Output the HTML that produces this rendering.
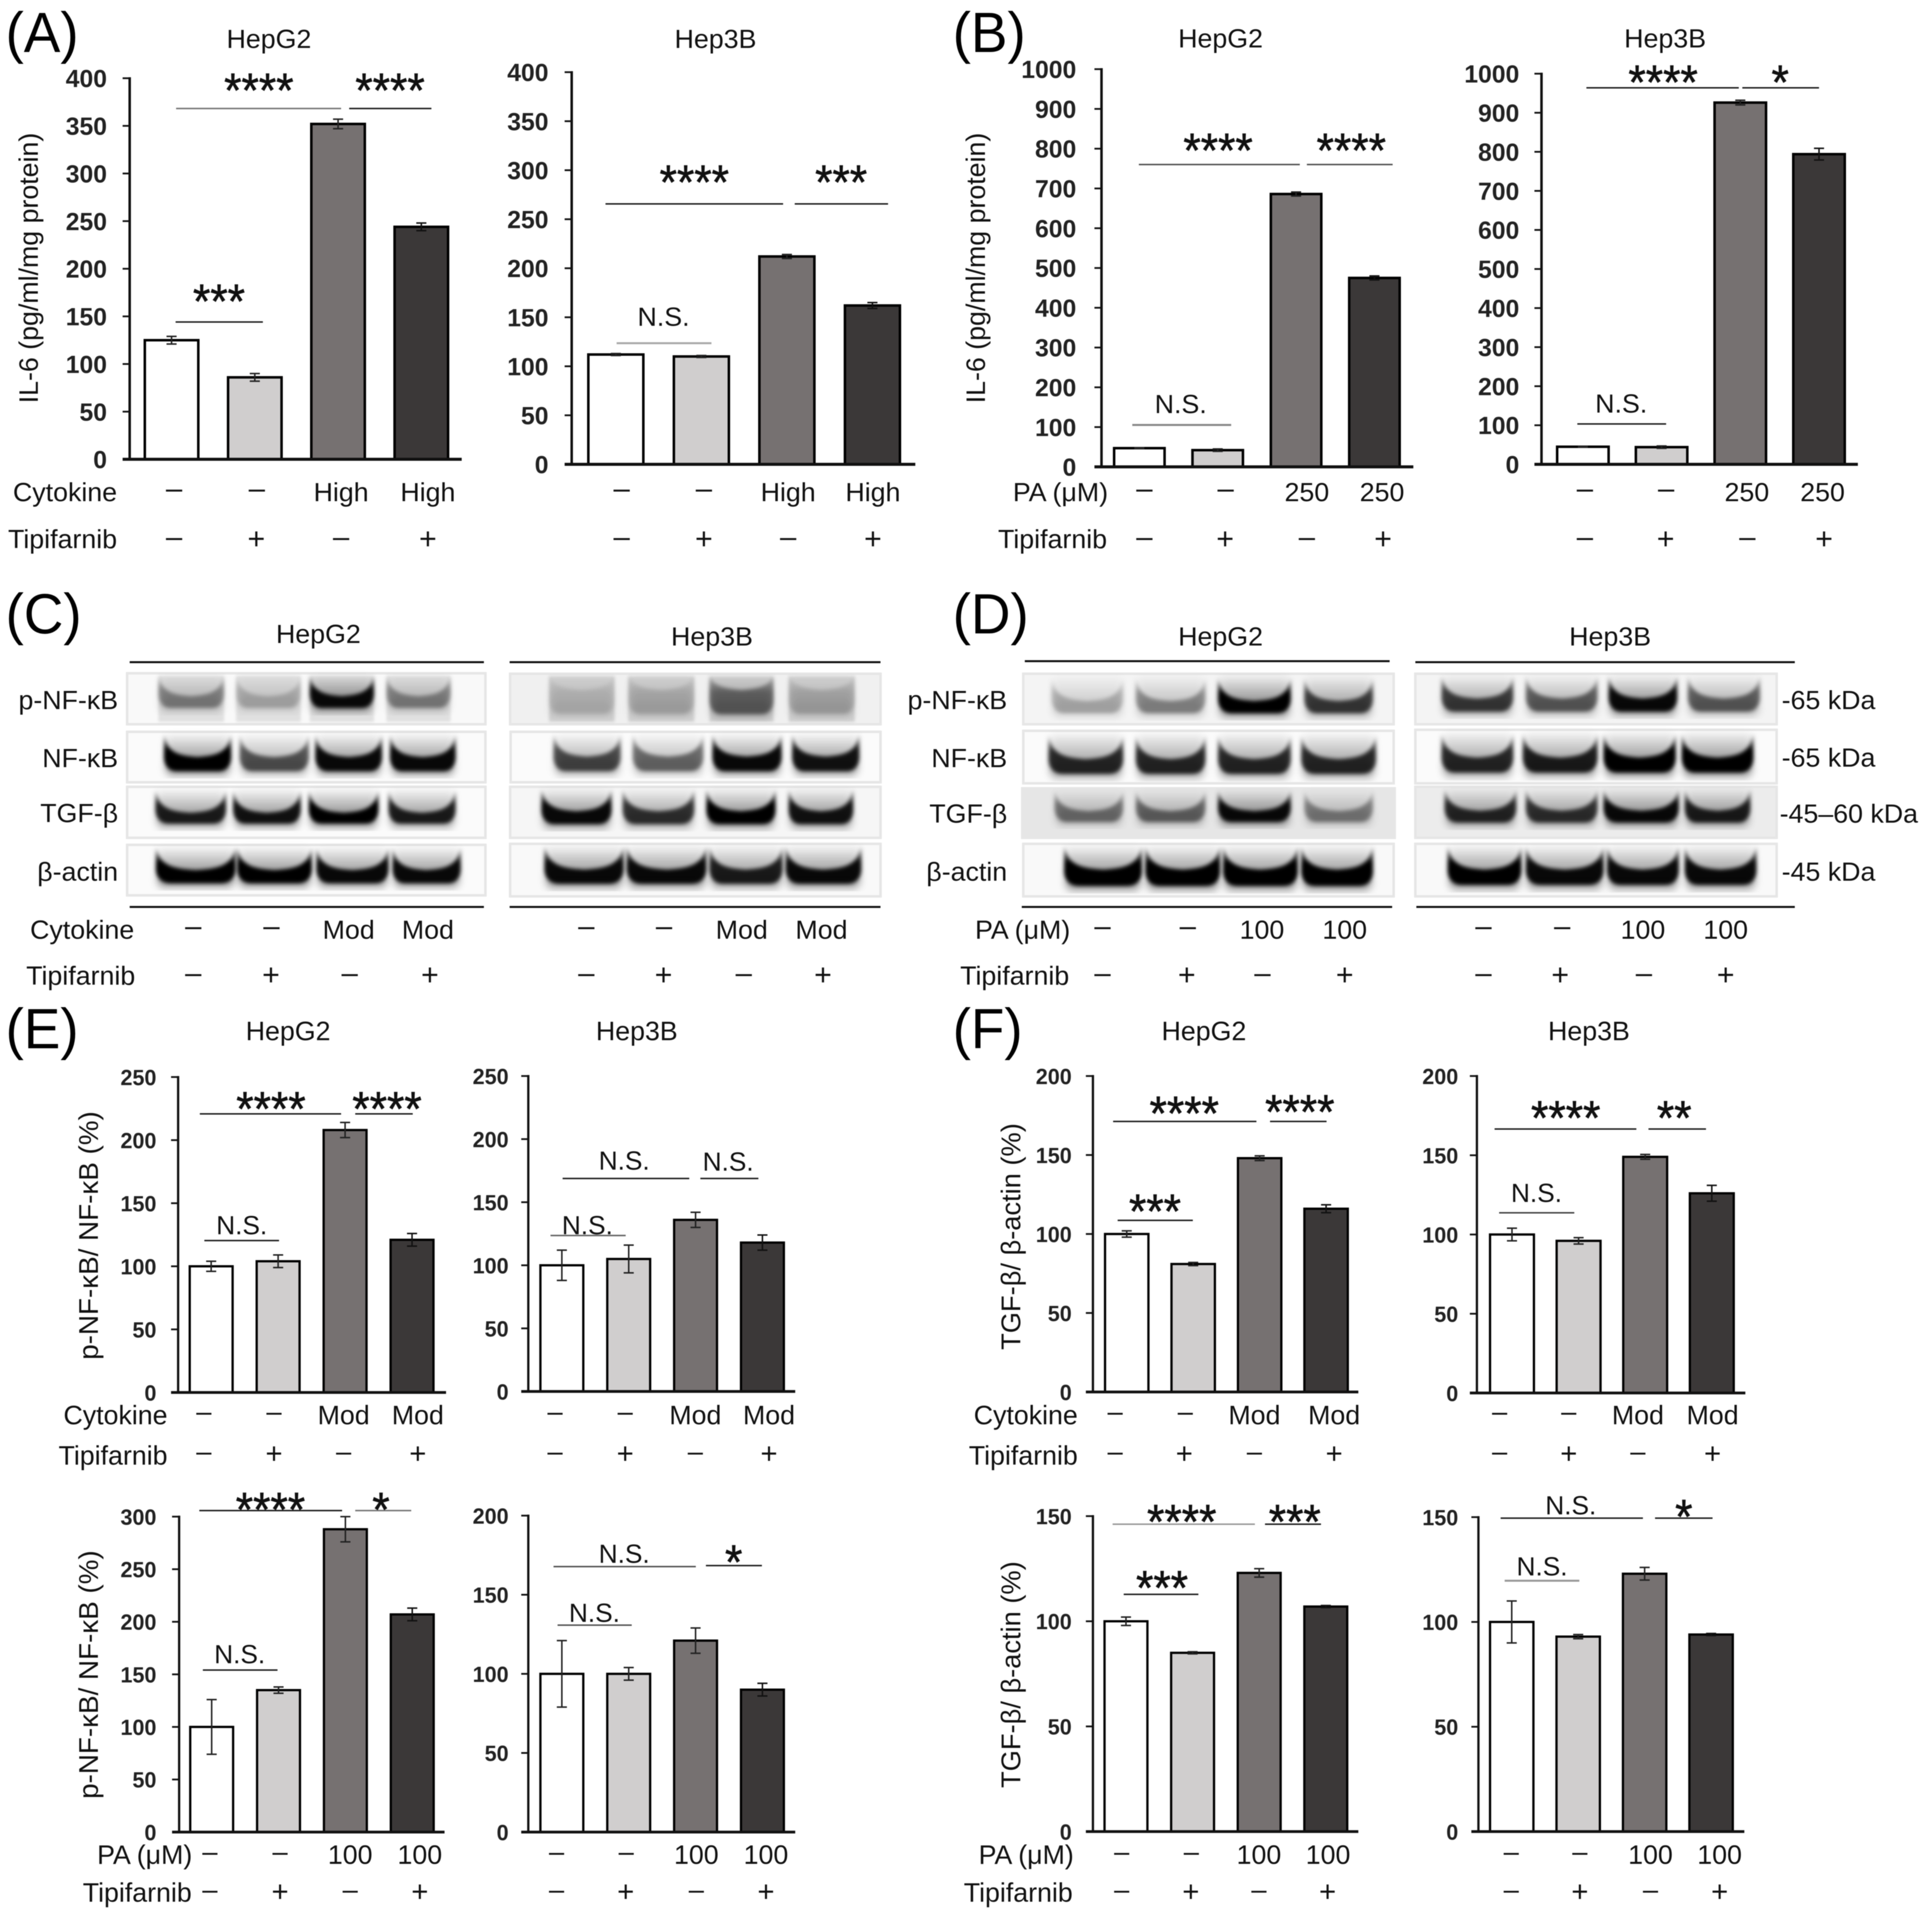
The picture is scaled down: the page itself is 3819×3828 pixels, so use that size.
<!DOCTYPE html>
<html lang="en">
<head>
<meta charset="utf-8">
<title>IL-6, NF-kB and TGF-beta figure</title>
<style>
html,body{margin:0;padding:0;background:#fff;width:3819px;height:3828px;overflow:hidden}
svg{display:block;filter:blur(0.9px)}
text{font-family:"Liberation Sans","DejaVu Sans",sans-serif}
</style>
</head>
<body>
<svg id="figure" xmlns="http://www.w3.org/2000/svg" width="3819" height="3828" viewBox="0 0 3819 3828">
<defs>
<filter id="blurCore" x="-30%" y="-60%" width="160%" height="220%"><feGaussianBlur stdDeviation="4"/></filter>
<filter id="blurTone" x="-10%" y="-10%" width="120%" height="120%"><feGaussianBlur stdDeviation="3"/></filter>
<filter id="blurSmear" x="-20%" y="-30%" width="140%" height="160%"><feGaussianBlur stdDeviation="8"/></filter>
<linearGradient id="smearGrad" x1="0" y1="0" x2="0" y2="1"><stop offset="0" stop-color="#000" stop-opacity="0.1"/><stop offset="1" stop-color="#000" stop-opacity="1"/></linearGradient>
<linearGradient id="bowlGrad" x1="0" y1="0" x2="0" y2="1"><stop offset="0" stop-color="#000" stop-opacity="0.35"/><stop offset="0.42" stop-color="#000" stop-opacity="1"/><stop offset="1" stop-color="#000" stop-opacity="1"/></linearGradient>
</defs>
<rect width="3819" height="3828" fill="#fff"/>
</svg>
<script>
/* ---------- chart data ---------- */
const barFills = ['#ffffff', '#d0cece', '#767171', '#3b3838'];
const tipifarnibRow = ['–', '+', '–', '+'];
const cytokineHighRow = ['–', '–', 'High', 'High'];
const cytokineModRow = ['–', '–', 'Mod', 'Mod'];
const pa250Row = ['–', '–', '250', '250'];
const pa100Row = ['–', '–', '100', '100'];

const a1Values = [125, 86, 352, 244];
const a1Errors = [4, 4, 5, 4];
const a1Ticks = [0, 50, 100, 150, 200, 250, 300, 350, 400];
const a2Values = [112, 110, 212, 162];
const a2Errors = [1, 1, 2, 3];
const a2Ticks = [0, 50, 100, 150, 200, 250, 300, 350, 400];
const b1Values = [47, 42, 686, 475];
const b1Errors = [1, 3, 5, 5];
const b1Ticks = [0, 100, 200, 300, 400, 500, 600, 700, 800, 900, 1000];
const b2Values = [45, 44, 926, 794];
const b2Errors = [1, 3, 6, 15];
const b2Ticks = [0, 100, 200, 300, 400, 500, 600, 700, 800, 900, 1000];
const e1Values = [100, 104, 208, 121];
const e1Errors = [4, 5, 6, 5];
const e1Ticks = [0, 50, 100, 150, 200, 250];
const e2Values = [100, 105, 136, 118];
const e2Errors = [12, 11, 6, 6];
const e2Ticks = [0, 50, 100, 150, 200, 250];
const e3Values = [100, 135, 288, 207];
const e3Errors = [26, 3, 12, 6];
const e3Ticks = [0, 50, 100, 150, 200, 250, 300];
const e4Values = [100, 100, 121, 90];
const e4Errors = [21, 4, 8, 4];
const e4Ticks = [0, 50, 100, 150, 200];
const f1Values = [100, 81, 148, 116];
const f1Errors = [2, 1, 1.5, 2.5];
const f1Ticks = [0, 50, 100, 150, 200];
const f2Values = [100, 96, 149, 126];
const f2Errors = [4, 2, 1.5, 5];
const f2Ticks = [0, 50, 100, 150, 200];
const f3Values = [100, 85, 123, 107];
const f3Errors = [2, 0.5, 2, 0.5];
const f3Ticks = [0, 50, 100, 150];
const f4Values = [100, 93, 123, 94];
const f4Errors = [10, 1, 3, 0.5];
const f4Ticks = [0, 50, 100, 150];

/* western blot band densities, one value per lane */
const c1PNfkb = [0.36, 0.18, 0.95, 0.36];
const c1Nfkb = [1, 0.6, 0.95, 0.95];
const c1Tgfb = [0.85, 0.9, 1, 0.85];
const c1Actin = [1, 1, 0.95, 0.95];
const c2PNfkb = [0.1, 0.14, 0.48, 0.16];
const c2Nfkb = [0.65, 0.5, 0.95, 0.9];
const c2Tgfb = [0.95, 0.75, 1, 0.9];
const c2Actin = [0.95, 0.95, 0.85, 0.95];
const d1PNfkb = [0.22, 0.36, 1, 0.7];
const d1Nfkb = [0.8, 0.8, 0.8, 0.8];
const d1Tgfb = [0.45, 0.5, 0.95, 0.4];
const d1Actin = [1, 1, 1, 1];
const d2PNfkb = [0.7, 0.55, 0.95, 0.55];
const d2Nfkb = [0.8, 0.85, 1, 1];
const d2Tgfb = [0.8, 0.75, 0.95, 0.85];
const d2Actin = [1, 0.95, 0.95, 0.95];

/* ---------- helpers ---------- */
const NS = 'http://www.w3.org/2000/svg';
const figure = document.getElementById('figure');
const TOP = {size: 52, sx: 1.02, tick: 49, tickSx: 1, titleSize: 52, titleSx: 1.02, dash: 58, plus: 60, nsSize: 52, nsSx: 1.02, bar: 5, axis: 5};
const BOT = {size: 53, sx: 1, tick: 44, tickSx: 0.97, titleSize: 53, titleSx: 1, dash: 54, plus: 58, nsSize: 52, nsSx: 1, bar: 4.5, axis: 4.5};

function make(tag, attrs, parent, name) {
  const el = document.createElementNS(NS, tag);
  for (const k in attrs) el.setAttribute(k, attrs[k]);
  
  
  parent.appendChild(el);
  return el;
}
function group(parent, name) {
  return make('g', {}, parent, name);
}
function txt(parent, str, x, y, o, name) {
  const tr = 'translate(' + x + ' ' + y + ')' + (o.rot ? ' rotate(' + o.rot + ')' : '') + ' scale(' + (o.sx || 1) + ' 1)';
  const attrs = {
    transform: tr,
    'font-size': o.size,
    'font-weight': o.weight || 'normal',
    'text-anchor': o.anchor || 'start',
    fill: o.fill || '#111'
  };
  if (o.stroke) {
    attrs.stroke = o.fill || '#111';
    attrs['stroke-width'] = o.stroke;
  }
  const el = make('text', attrs, parent, name);
  el.textContent = str;
  return el;
}
function line(parent, x1, y1, x2, y2, stroke, w, name) {
  return make('line', {x1: x1, y1: y1, x2: x2, y2: y2, stroke: stroke, 'stroke-width': w}, parent, name);
}

/* row of treatment labels under a chart */
function treatmentRow(parent, st, labels, xs, baseY, dashY, rowName) {
  labels.forEach(function (lab, i) {
    if (lab === '–') {
      txt(parent, lab, xs[i], dashY + 0.28 * st.dash, {size: st.dash, anchor: 'middle'}, rowName + '-minus');
    } else if (lab === '+') {
      txt(parent, lab, xs[i], dashY + 0.35 * st.plus, {size: st.plus, anchor: 'middle'}, rowName + '-plus');
    } else {
      txt(parent, lab, xs[i], baseY, {size: st.size, sx: st.sx, anchor: 'middle'}, rowName + '-value');
    }
  });
}
function sigBracket(parent, st, s) {
  line(parent, s.x1, s.y, s.x2, s.y, s.color || '#222', s.w || 3, 'significance-line');
  if (s.label === 'N.S.') {
    txt(parent, s.label, s.cx, s.cy + 0.36 * st.nsSize, {size: st.nsSize, sx: st.nsSx, anchor: 'middle'}, 'not-significant-label');
  } else {
    txt(parent, s.label, s.cx, s.cy + 50, {size: 96, sx: 0.92, stroke: 1.2, anchor: 'middle'}, 'significance-stars');
  }
}

/* ---------- bar chart, drawn through axis functions ---------- */
function drawBarChart(cfg, values, errors, ticks, row1, row2) {
  const st = cfg.style;
  const g = group(figure, cfg.id);
  const vMax = Math.max.apply(null, ticks);
  const yAxis = function (v) { return cfg.yBot - (v / vMax) * (cfg.yBot - cfg.yTop); };
  const xBand = function (i) { return cfg.barX0 + i * cfg.step; };

  if (cfg.title) {
    txt(g, cfg.title, cfg.titleX, cfg.titleY, {size: st.titleSize, sx: st.titleSx, anchor: 'middle'}, 'chart-title');
  }

  ticks.forEach(function (t) {
    line(g, cfg.axisX - 14, yAxis(t), cfg.axisX, yAxis(t), '#111', 3.5, 'y-tick');
    txt(g, String(t), cfg.tickRight, yAxis(t) + st.tick * 0.36, {size: st.tick, sx: st.tickSx, weight: 'bold', anchor: 'end', fill: '#222'}, 'y-tick-label');
  });

  values.forEach(function (v, i) {
    const y = yAxis(v);
    make('rect', {x: xBand(i), y: y, width: cfg.barW, height: cfg.yBot - y, fill: barFills[i], stroke: '#000', 'stroke-width': st.bar}, g, 'bar');
    const cx = xBand(i) + cfg.barW / 2;
    const hi = yAxis(v + errors[i]);
    const lo = yAxis(v - errors[i]);
    const errColor = i === 3 ? '#111' : '#222';
    line(g, cx, hi, cx, lo, errColor, 3, 'error-bar');
    line(g, cx - 10, hi, cx + 10, hi, errColor, 3, 'error-cap');
    line(g, cx - 10, lo, cx + 10, lo, errColor, 3, 'error-cap');
  });

  line(g, cfg.axisX, cfg.yTop - 2, cfg.axisX, cfg.yBot, '#111', st.axis, 'y-axis');
  line(g, cfg.axisX - 14, cfg.yBot, cfg.xEnd, cfg.yBot, '#111', st.axis + 1, 'x-axis');

  if (cfg.yTitle) {
    txt(g, cfg.yTitle, cfg.yTitleX, cfg.yTitleY, {size: cfg.yTitleSize, sx: cfg.yTitleSx || 1, rot: -90, anchor: 'middle'}, 'y-axis-title');
  }
  if (cfg.r1Label) {
    txt(g, cfg.r1Label, cfg.r1LabelX, cfg.rows[0], {size: st.size, sx: st.sx, anchor: 'end'}, 'row-label-treatment');
    txt(g, 'Tipifarnib', cfg.r2LabelX, cfg.rows[2], {size: st.size, sx: st.sx, anchor: 'end'}, 'row-label-tipifarnib');
  }
  treatmentRow(g, st, row1, cfg.r1x, cfg.rows[0], cfg.rows[1], 'treatment-row');
  treatmentRow(g, st, row2, cfg.r2x, cfg.rows[2], cfg.rows[3], 'tipifarnib-row');
  cfg.sig.forEach(function (s) { sigBracket(g, st, s); });
}

/* ---------- western blots ---------- */
function drawBlotStrip(parent, name, x, y, w, h, bg, lanes, density, c1, c2, tone) {
  const g = group(parent, name);
  make('rect', {x: x, y: y, width: w, height: h, fill: bg, stroke: '#e6e6e6', 'stroke-width': 5}, g, 'blot-frame');
  density.forEach(function (d, i) {
    const xa = lanes[i][0], xb = lanes[i][1], lw = xb - xa;
    const top = y + h * c1, bot = y + h * c2;
    const tip = Math.max(y + h * 0.05, top - h * 0.42);
    if (tone) {
      make('rect', {x: xa, y: y + 5, width: lw, height: h - 10, fill: '#000', 'fill-opacity': tone, filter: 'url(#blurTone)'}, g, 'blot-lane-background');
    }
    make('rect', {x: xa + 4, y: y + 8, width: lw - 8, height: bot - y - 8, fill: 'url(#smearGrad)', 'fill-opacity': 0.12 + 0.42 * d, filter: 'url(#blurSmear)'}, g, 'blot-lane-smear');
    make('rect', {x: xa + 8, y: bot - 4, width: lw - 16, height: h * 0.14, fill: '#000', 'fill-opacity': 0.26 * d, filter: 'url(#blurSmear)'}, g, 'blot-lane-glow');
    const path = 'M' + xa + ' ' + tip +
      ' C' + (xa + lw * 0.06) + ' ' + (top - h * 0.1) + ' ' + (xa + lw * 0.16) + ' ' + (top - h * 0.01) + ' ' + (xa + lw * 0.5) + ' ' + (top + h * 0.02) +
      ' C' + (xb - lw * 0.16) + ' ' + (top - h * 0.01) + ' ' + (xb - lw * 0.06) + ' ' + (top - h * 0.1) + ' ' + xb + ' ' + tip +
      ' L' + xb + ' ' + (bot - h * 0.26) +
      ' Q' + (xb - lw * 0.02) + ' ' + bot + ' ' + (xb - lw * 0.2) + ' ' + bot +
      ' L' + (xa + lw * 0.2) + ' ' + bot +
      ' Q' + (xa + lw * 0.02) + ' ' + bot + ' ' + xa + ' ' + (bot - h * 0.26) + ' Z';
    make('path', {d: path, fill: 'url(#bowlGrad)', 'fill-opacity': d, filter: 'url(#blurCore)'}, g, 'blot-band');
  });
}
function blotLabel(parent, right, base, str) {
  txt(parent, str, right, base, {size: TOP.size, sx: TOP.sx, anchor: 'end'}, 'blot-protein-label');
}
function kda(parent, x, base, str) {
  txt(parent, str, x, base, {size: TOP.size, sx: TOP.sx}, 'molecular-weight-label');
}

/* ---------- panel letters ---------- */
[['(A)', 11, 103], ['(B)', 1888, 103], ['(C)', 11, 1255], ['(D)', 1888, 1255], ['(E)', 11, 2077], ['(F)', 1888, 2077]].forEach(function (p) {
  txt(figure, p[0], p[1], p[2], {size: 112, sx: 0.97, fill: '#000'}, 'panel-letter');
});

const IL6 = 'IL-6 (pg/ml/mg protein)';
const PNF = 'p-NF-κB/ NF-κB (%)';
const TGF = 'TGF-β/ β-actin (%)';
const rowsAB = [993, 971, 1086, 1067];
const rowsE1 = [2822, 2800, 2902, 2879];
const rowsE2 = [3693, 3672, 3768, 3747];

/* ---------- panel A ---------- */
drawBarChart({id: 'chart-a-hepg2', style: TOP, title: 'HepG2', titleX: 533, titleY: 95, axisX: 257, yTop: 155, yBot: 910, xEnd: 915, barX0: 287, step: 165, barW: 106, tickRight: 212,
  yTitle: IL6, yTitleX: 75, yTitleY: 531, yTitleSize: 53,
  r1Label: 'Cytokine', r1LabelX: 232, r2LabelX: 232, rows: rowsAB, r1x: [345, 509, 676, 848], r2x: [345, 508, 676, 848],
  sig: [{x1: 349, x2: 676, y: 215, color: '#777', label: '****', cx: 513, cy: 162}, {x1: 692, x2: 855, y: 215, label: '****', cx: 773, cy: 162}, {x1: 348, x2: 521, y: 638, label: '***', cx: 434, cy: 580}]
}, a1Values, a1Errors, a1Ticks, cytokineHighRow, tipifarnibRow);

drawBarChart({id: 'chart-a-hep3b', style: TOP, title: 'Hep3B', titleX: 1418, titleY: 95, axisX: 1133, yTop: 143, yBot: 920, xEnd: 1814, barX0: 1166, step: 169.5, barW: 109, tickRight: 1087,
  rows: rowsAB, r1x: [1232, 1395, 1562, 1730], r2x: [1232, 1395, 1562, 1730],
  sig: [{x1: 1200, x2: 1552, y: 404, label: '****', cx: 1376, cy: 344}, {x1: 1575, x2: 1760, y: 404, label: '***', cx: 1667, cy: 344}, {x1: 1222, x2: 1410, y: 680, color: '#aaa', w: 4, label: 'N.S.', cx: 1315, cy: 627}]
}, a2Values, a2Errors, a2Ticks, cytokineHighRow, tipifarnibRow);

/* ---------- panel B ---------- */
drawBarChart({id: 'chart-b-hepg2', style: TOP, title: 'HepG2', titleX: 2419, titleY: 94, axisX: 2183, yTop: 137, yBot: 925, xEnd: 2801, barX0: 2208, step: 155.3, barW: 100, tickRight: 2133,
  yTitle: IL6, yTitleX: 1952, yTitleY: 531, yTitleSize: 53,
  r1Label: 'PA (μM)', r1LabelX: 2196, r2LabelX: 2194, rows: rowsAB, r1x: [2268, 2429, 2590, 2739], r2x: [2268, 2428, 2590, 2741],
  sig: [{x1: 2257, x2: 2576, y: 326, color: '#555', label: '****', cx: 2414, cy: 281}, {x1: 2590, x2: 2760, y: 326, color: '#555', label: '****', cx: 2678, cy: 281}, {x1: 2244, x2: 2440, y: 842, color: '#888', w: 4, label: 'N.S.', cx: 2340, cy: 800}]
}, b1Values, b1Errors, b1Ticks, pa250Row, tipifarnibRow);

drawBarChart({id: 'chart-b-hep3b', style: TOP, title: 'Hep3B', titleX: 3300, titleY: 94, axisX: 3055, yTop: 146, yBot: 920, xEnd: 3682, barX0: 3086, step: 156, barW: 102, tickRight: 3011,
  rows: rowsAB, r1x: [3141, 3302, 3462, 3612], r2x: [3141, 3301, 3463, 3615],
  sig: [{x1: 3144, x2: 3446, y: 174, label: '****', cx: 3296, cy: 146}, {x1: 3453, x2: 3605, y: 174, label: '*', cx: 3528, cy: 146}, {x1: 3126, x2: 3302, y: 840, label: 'N.S.', cx: 3213, cy: 799}]
}, b2Values, b2Errors, b2Ticks, pa250Row, tipifarnibRow);

/* ---------- panels C and D ---------- */
(function () {
  const gC = group(figure, 'western-blot-panel-c');
  txt(gC, 'HepG2', 631, 1274, {size: TOP.titleSize, sx: TOP.titleSx, anchor: 'middle'}, 'blot-title');
  txt(gC, 'Hep3B', 1411, 1279, {size: TOP.titleSize, sx: TOP.titleSx, anchor: 'middle'}, 'blot-title');
  line(gC, 257, 1312, 959, 1312, '#111', 4, 'blot-top-rule');
  line(gC, 1010, 1312, 1745, 1312, '#111', 4, 'blot-top-rule');
  line(gC, 257, 1797, 959, 1797, '#111', 4, 'blot-bottom-rule');
  line(gC, 1010, 1797, 1745, 1797, '#111', 4, 'blot-bottom-rule');

  drawBlotStrip(gC, 'blot-c-hepg2-p-nfkb', 252, 1334, 710, 101, '#f9f9f9', [[314, 444], [468, 596], [614, 741], [766, 893]], c1PNfkb, 0.43, 0.68, 0.1);
  drawBlotStrip(gC, 'blot-c-hepg2-nfkb', 252, 1450, 710, 100, '#fbfbfb', [[325, 458], [475, 612], [625, 757], [773, 903]], c1Nfkb, 0.48, 0.78);
  drawBlotStrip(gC, 'blot-c-hepg2-tgfb', 252, 1559, 710, 101, '#fbfbfb', [[308, 448], [462, 596], [612, 750], [770, 903]], c1Tgfb, 0.49, 0.72);
  drawBlotStrip(gC, 'blot-c-hepg2-actin', 252, 1674, 710, 100, '#fbfbfb', [[309, 467], [470, 618], [627, 770], [778, 913]], c1Actin, 0.48, 0.76);
  drawBlotStrip(gC, 'blot-c-hep3b-p-nfkb', 1011, 1335, 734, 100, '#f0f0f0', [[1088, 1218], [1245, 1376], [1406, 1533], [1563, 1694]], c2PNfkb, 0.3, 0.8, 0.13);
  drawBlotStrip(gC, 'blot-c-hep3b-nfkb', 1012, 1450, 733, 100, '#fbfbfb', [[1097, 1230], [1254, 1394], [1412, 1549], [1570, 1703]], c2Nfkb, 0.47, 0.78);
  drawBlotStrip(gC, 'blot-c-hep3b-tgfb', 1011, 1559, 734, 101, '#f6f6f6', [[1073, 1212], [1234, 1376], [1400, 1537], [1563, 1691]], c2Tgfb, 0.46, 0.73);
  drawBlotStrip(gC, 'blot-c-hep3b-actin', 1011, 1672, 734, 104, '#f9f9f9', [[1079, 1236], [1242, 1400], [1406, 1551], [1557, 1707]], c2Actin, 0.47, 0.76);

  blotLabel(gC, 234, 1405, 'p-NF-κB');
  blotLabel(gC, 234, 1520, 'NF-κB');
  blotLabel(gC, 234, 1629, 'TGF-β');
  blotLabel(gC, 234, 1745, 'β-actin');

  txt(gC, 'Cytokine', 266, 1860, {size: TOP.size, sx: TOP.sx, anchor: 'end'}, 'row-label-treatment');
  txt(gC, 'Tipifarnib', 268, 1951, {size: TOP.size, sx: TOP.sx, anchor: 'end'}, 'row-label-tipifarnib');
  treatmentRow(gC, TOP, cytokineModRow, [383, 538, 691, 848], 1860, 1838, 'treatment-row');
  treatmentRow(gC, TOP, tipifarnibRow, [383, 537, 693, 852], 1951, 1931, 'tipifarnib-row');
  treatmentRow(gC, TOP, cytokineModRow, [1162, 1316, 1470, 1628], 1860, 1838, 'treatment-row');
  treatmentRow(gC, TOP, tipifarnibRow, [1162, 1315, 1474, 1631], 1951, 1931, 'tipifarnib-row');

  const gD = group(figure, 'western-blot-panel-d');
  txt(gD, 'HepG2', 2419, 1279, {size: TOP.titleSize, sx: TOP.titleSx, anchor: 'middle'}, 'blot-title');
  txt(gD, 'Hep3B', 3191, 1279, {size: TOP.titleSize, sx: TOP.titleSx, anchor: 'middle'}, 'blot-title');
  line(gD, 2031, 1310, 2754, 1310, '#111', 4, 'blot-top-rule');
  line(gD, 2805, 1312, 3557, 1312, '#111', 4, 'blot-top-rule');
  line(gD, 2025, 1797, 2759, 1797, '#111', 4, 'blot-bottom-rule');
  line(gD, 2807, 1797, 3557, 1797, '#111', 4, 'blot-bottom-rule');

  drawBlotStrip(gD, 'blot-d-hepg2-p-nfkb', 2028, 1335, 734, 100, '#f4f4f4', [[2084, 2226], [2251, 2389], [2414, 2558], [2585, 2721]], d1PNfkb, 0.52, 0.78);
  drawBlotStrip(gD, 'blot-d-hepg2-nfkb', 2028, 1448, 734, 104, '#fbfbfb', [[2078, 2226], [2251, 2389], [2414, 2558], [2579, 2727]], d1Nfkb, 0.52, 0.82);
  drawBlotStrip(gD, 'blot-d-hepg2-tgfb', 2026, 1562, 738, 98, '#e6e6e6', [[2090, 2226], [2251, 2389], [2414, 2558], [2585, 2721]], d1Tgfb, 0.44, 0.68);
  drawBlotStrip(gD, 'blot-d-hepg2-actin', 2028, 1672, 734, 104, '#f9f9f9', [[2109, 2263], [2270, 2418], [2424, 2572], [2579, 2721]], d1Actin, 0.47, 0.8);
  drawBlotStrip(gD, 'blot-d-hep3b-p-nfkb', 2805, 1335, 716, 100, '#f4f4f4', [[2857, 2999], [3024, 3166], [3188, 3324], [3345, 3488]], d2PNfkb, 0.47, 0.75);
  drawBlotStrip(gD, 'blot-d-hep3b-nfkb', 2805, 1446, 716, 106, '#fbfbfb', [[2857, 2999], [3018, 3166], [3178, 3321], [3333, 3475]], d2Nfkb, 0.5, 0.8);
  drawBlotStrip(gD, 'blot-d-hep3b-tgfb', 2805, 1559, 716, 101, '#ececec', [[2863, 3005], [3024, 3166], [3178, 3327], [3339, 3469]], d2Tgfb, 0.45, 0.7);
  drawBlotStrip(gD, 'blot-d-hep3b-actin', 2805, 1672, 716, 104, '#f9f9f9', [[2869, 3015], [3024, 3178], [3185, 3327], [3339, 3481]], d2Actin, 0.47, 0.78);

  blotLabel(gD, 1996, 1405, 'p-NF-κB');
  blotLabel(gD, 1996, 1520, 'NF-κB');
  blotLabel(gD, 1996, 1630, 'TGF-β');
  blotLabel(gD, 1996, 1745, 'β-actin');
  kda(gD, 3531, 1405, '-65 kDa');
  kda(gD, 3531, 1519, '-65 kDa');
  kda(gD, 3527, 1630, '-45–60 kDa');
  kda(gD, 3531, 1745, '-45 kDa');

  txt(gD, 'PA (μM)', 2121, 1860, {size: TOP.size, sx: TOP.sx, anchor: 'end'}, 'row-label-treatment');
  txt(gD, 'Tipifarnib', 2119, 1951, {size: TOP.size, sx: TOP.sx, anchor: 'end'}, 'row-label-tipifarnib');
  treatmentRow(gD, TOP, pa100Row, [2185, 2354, 2501, 2665], 1860, 1838, 'treatment-row');
  treatmentRow(gD, TOP, tipifarnibRow, [2185, 2352, 2502, 2665], 1951, 1931, 'tipifarnib-row');
  treatmentRow(gD, TOP, pa100Row, [2940, 3096, 3256, 3420], 1860, 1838, 'treatment-row');
  treatmentRow(gD, TOP, tipifarnibRow, [2940, 3092, 3258, 3420], 1951, 1931, 'tipifarnib-row');
})();

/* ---------- panel E ---------- */
drawBarChart({id: 'chart-e-hepg2-cytokine', style: BOT, title: 'HepG2', titleX: 571, titleY: 2061, axisX: 353, yTop: 2134, yBot: 2759, xEnd: 884, barX0: 376, step: 132.7, barW: 85, tickRight: 310,
  yTitle: PNF, yTitleX: 194, yTitleY: 2448, yTitleSize: 54, yTitleSx: 1.02,
  r1Label: 'Cytokine', r1LabelX: 332, r2LabelX: 332, rows: rowsE1, r1x: [404, 543, 681, 828], r2x: [404, 543, 681, 828],
  sig: [{x1: 396, x2: 676, y: 2207, label: '****', cx: 537, cy: 2180}, {x1: 704, x2: 818, y: 2207, label: '****', cx: 767, cy: 2180}, {x1: 405, x2: 553, y: 2458, label: 'N.S.', cx: 479, cy: 2427}]
}, e1Values, e1Errors, e1Ticks, cytokineModRow, tipifarnibRow);

drawBarChart({id: 'chart-e-hep3b-cytokine', style: BOT, title: 'Hep3B', titleX: 1262, titleY: 2061, axisX: 1047, yTop: 2132, yBot: 2757, xEnd: 1576, barX0: 1071, step: 132.5, barW: 85, tickRight: 1008,
  rows: rowsE1, r1x: [1100, 1239, 1378, 1524], r2x: [1100, 1239, 1378, 1524],
  sig: [{x1: 1115, x2: 1366, y: 2335, label: 'N.S.', cx: 1237, cy: 2299}, {x1: 1388, x2: 1503, y: 2335, label: 'N.S.', cx: 1443, cy: 2301}, {x1: 1091, x2: 1240, y: 2448, color: '#666', label: 'N.S.', cx: 1164, cy: 2427}]
}, e2Values, e2Errors, e2Ticks, cytokineModRow, tipifarnibRow);

drawBarChart({id: 'chart-e-hepg2-pa', style: BOT, axisX: 355, yTop: 3005, yBot: 3630, xEnd: 881, barX0: 377, step: 132.5, barW: 85, tickRight: 310,
  yTitle: PNF, yTitleX: 194, yTitleY: 3318, yTitleSize: 54, yTitleSx: 1.02,
  r1Label: 'PA (μM)', r1LabelX: 381, r2LabelX: 380, rows: rowsE2, r1x: [416, 555, 694, 832], r2x: [416, 555, 694, 832],
  sig: [{x1: 395, x2: 678, y: 2993, label: '****', cx: 536, cy: 2974}, {x1: 704, x2: 815, y: 2993, color: '#777', label: '*', cx: 755, cy: 2974}, {x1: 402, x2: 550, y: 3309, label: 'N.S.', cx: 475, cy: 3277}]
}, e3Values, e3Errors, e3Ticks, pa100Row, tipifarnibRow);

drawBarChart({id: 'chart-e-hep3b-pa', style: BOT, axisX: 1047, yTop: 3003, yBot: 3630, xEnd: 1576, barX0: 1071, step: 132.5, barW: 85, tickRight: 1008,
  rows: rowsE2, r1x: [1103, 1241, 1380, 1518], r2x: [1103, 1240, 1380, 1518],
  sig: [{x1: 1097, x2: 1379, y: 3104, color: '#555', label: 'N.S.', cx: 1237, cy: 3078}, {x1: 1399, x2: 1510, y: 3102, label: '*', cx: 1454, cy: 3078}, {x1: 1105, x2: 1252, y: 3220, color: '#555', label: 'N.S.', cx: 1178, cy: 3195}]
}, e4Values, e4Errors, e4Ticks, pa100Row, tipifarnibRow);

/* ---------- panel F ---------- */
drawBarChart({id: 'chart-f-hepg2-cytokine', style: BOT, title: 'HepG2', titleX: 2386, titleY: 2061, axisX: 2166, yTop: 2132, yBot: 2758, xEnd: 2692, barX0: 2190, step: 131.7, barW: 86, tickRight: 2124,
  yTitle: TGF, yTitleX: 2022, yTitleY: 2450, yTitleSize: 54,
  r1Label: 'Cytokine', r1LabelX: 2136, r2LabelX: 2136, rows: rowsE1, r1x: [2210, 2349, 2486, 2644], r2x: [2210, 2347, 2486, 2644],
  sig: [{x1: 2206, x2: 2490, y: 2222, label: '****', cx: 2347, cy: 2189}, {x1: 2517, x2: 2629, y: 2222, label: '****', cx: 2576, cy: 2186}, {x1: 2215, x2: 2364, y: 2418, label: '***', cx: 2289, cy: 2383}]
}, f1Values, f1Errors, f1Ticks, cytokineModRow, tipifarnibRow);

drawBarChart({id: 'chart-f-hep3b-cytokine', style: BOT, title: 'Hep3B', titleX: 3149, titleY: 2061, axisX: 2927, yTop: 2132, yBot: 2760, xEnd: 3459, barX0: 2953, step: 132, barW: 87, tickRight: 2890,
  rows: rowsE1, r1x: [2972, 3109, 3246, 3394], r2x: [2972, 3109, 3246, 3394],
  sig: [{x1: 2962, x2: 3243, y: 2237, label: '****', cx: 3103, cy: 2198}, {x1: 3267, x2: 3381, y: 2237, label: '**', cx: 3318, cy: 2198}, {x1: 2971, x2: 3120, y: 2403, color: '#444', label: 'N.S.', cx: 3045, cy: 2363}]
}, f2Values, f2Errors, f2Ticks, cytokineModRow, tipifarnibRow);

drawBarChart({id: 'chart-f-hepg2-pa', style: BOT, axisX: 2166, yTop: 3004, yBot: 3629, xEnd: 2692, barX0: 2189, step: 132, barW: 85, tickRight: 2124,
  yTitle: TGF, yTitleX: 2022, yTitleY: 3318, yTitleSize: 54,
  r1Label: 'PA (μM)', r1LabelX: 2128, r2LabelX: 2126, rows: rowsE2, r1x: [2223, 2361, 2495, 2632], r2x: [2223, 2360, 2495, 2631],
  sig: [{x1: 2205, x2: 2487, y: 3020, color: '#999', label: '****', cx: 2342, cy: 2998}, {x1: 2507, x2: 2618, y: 3020, label: '***', cx: 2566, cy: 2998}, {x1: 2227, x2: 2375, y: 3159, label: '***', cx: 2303, cy: 3129}]
}, f3Values, f3Errors, f3Ticks, pa100Row, tipifarnibRow);

drawBarChart({id: 'chart-f-hep3b-pa', style: BOT, axisX: 2930, yTop: 3006, yBot: 3629, xEnd: 3457, barX0: 2953, step: 131.7, barW: 86, tickRight: 2890,
  rows: rowsE2, r1x: [2995, 3131, 3271, 3408], r2x: [2995, 3131, 3271, 3408],
  sig: [{x1: 2974, x2: 3256, y: 3008, label: 'N.S.', cx: 3113, cy: 2982}, {x1: 3280, x2: 3394, y: 3008, label: '*', cx: 3337, cy: 2988}, {x1: 2982, x2: 3130, y: 3132, color: '#999', w: 4, label: 'N.S.', cx: 3056, cy: 3103}]
}, f4Values, f4Errors, f4Ticks, pa100Row, tipifarnibRow);
</script>
</body>
</html>
